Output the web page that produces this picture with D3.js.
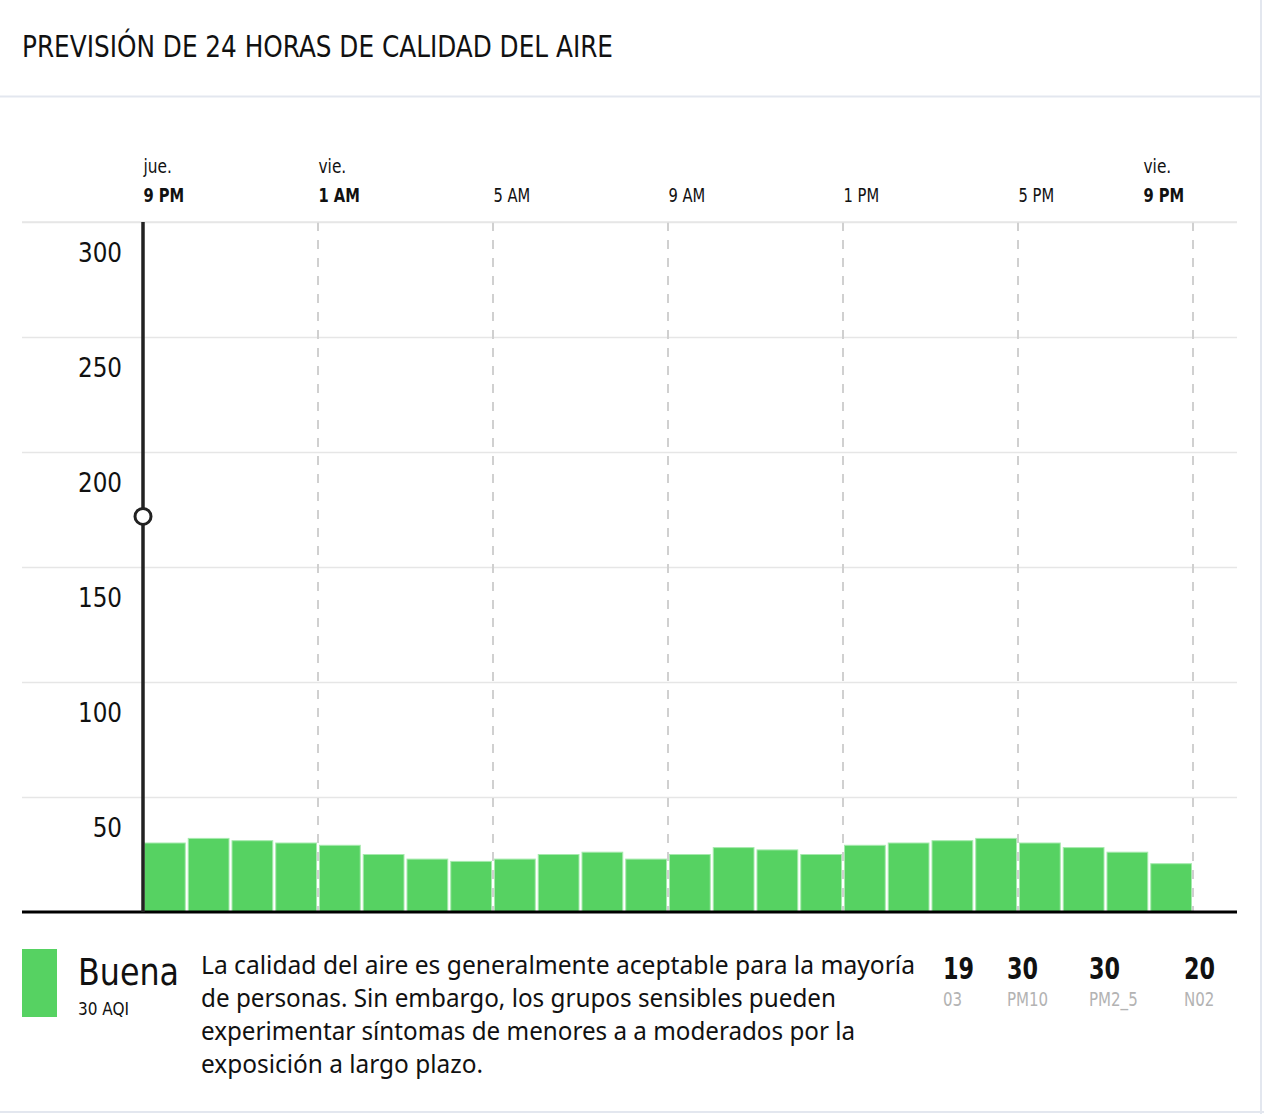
<!DOCTYPE html>
<html>
<head>
<meta charset="utf-8">
<script src="https://cdn.jsdelivr.net/npm/d3@7"></script>
<style>
  body { margin: 0; background: #fff; }
  svg text { font-family: "Liberation Sans Narrow", "DejaVu Sans Condensed", sans-serif; }
</style>
</head>
<body>
<svg id="aqi" width="1264" height="1114"></svg>
<script>
// hourly forecast, AQI values (24 bars starting jue. 9 PM)
const hours = d3.range(24);
const aqiValues = [30, 32, 31, 30, 29, 25, 23, 22, 23, 25, 26, 23, 25, 28, 27, 25, 29, 30, 31, 32, 30, 28, 26, 21];
const yTicks = [50, 100, 150, 200, 250, 300];
const xTicks = [0, 4, 8, 12, 16, 20, 24];
const xTickLabels = ["9 PM", "1 AM", "5 AM", "9 AM", "1 PM", "5 PM", "9 PM"];
const xDayLabels = ["jue.", "vie.", "", "", "", "", "vie."];
const markerValue = 172;

const pollutants = ["O3", "PM10", "PM2_5", "NO2"];
const pollutantValues = [19, 30, 30, 20];

const svg = d3.select("svg#aqi");

// squeeze text horizontally, the original font is a condensed one
function condense(sel, k) {
    sel.each(function () {
        const len = this.getComputedTextLength();
        if (len > 0) {
            d3.select(this).attr("textLength", len * k).attr("lengthAdjust", "spacingAndGlyphs");
        }
    });
}

// frame lines
svg.append("line").attr("x1", 0).attr("x2", 1260).attr("y1", 96.5).attr("y2", 96.5)
    .style("stroke", "#e3e7ef").style("stroke-width", 2);
svg.append("line").attr("x1", 1261).attr("x2", 1261).attr("y1", 0).attr("y2", 1114)
    .style("stroke", "#e3e7ef").style("stroke-width", 2);
svg.append("line").attr("x1", 0).attr("x2", 1264).attr("y1", 1112).attr("y2", 1112)
    .style("stroke", "#e3e7ef").style("stroke-width", 2);

svg.append("text")
    .attr("x", 22).attr("y", 57)
    .style("font-size", "30px").style("fill", "#111")
    .text("PREVISIÓN DE 24 HORAS DE CALIDAD DEL AIRE")
    .attr("textLength", 591).attr("lengthAdjust", "spacingAndGlyphs");

// scales
const x = d3.scaleLinear().domain([0, 24]).range([143, 1193]);
const y = d3.scaleLinear().domain([0, 300]).range([912, 222]);

// horizontal grid (y axis)
const yAxis = svg.append("g")
    .attr("transform", "translate(22,0)")
    .call(d3.axisRight(y).tickValues(yTicks).tickSize(1215).tickFormat(d3.format("d")));
yAxis.select(".domain").remove();
yAxis.selectAll(".tick line").style("stroke", "#e6e6e6").style("stroke-width", 1.5);
yAxis.selectAll(".tick text")
    .attr("x", 100).attr("dy", 39)
    .attr("text-anchor", "end")
    .style("font-size", "27px").style("fill", "#111")
    .style("font-family", "'Liberation Sans Narrow', 'DejaVu Sans Condensed', sans-serif")
    .call(condense, 0.95);

// dashed vertical hour lines
svg.append("g").selectAll("line")
    .data(xTicks.slice(1))
    .join("line")
    .attr("x1", d => x(d)).attr("x2", d => x(d))
    .attr("y1", y(300)).attr("y2", y(0))
    .style("stroke", "#d0d0d0").style("stroke-width", 2)
    .style("stroke-dasharray", "9,9");

// bars
const barW = x(1) - x(0);
svg.append("g").selectAll("rect")
    .data(aqiValues)
    .join("rect")
    .attr("x", (d, i) => x(hours[i]) + 1.5)
    .attr("y", d => y(d))
    .attr("width", barW - 3)
    .attr("height", d => y(0) - y(d))
    .style("fill", "#56d262")
    .style("stroke", "#a6e9ad")
    .style("stroke-width", 1);

// top time axis (last label pulled back inside the chart)
const last = xTicks.length - 1;
const xAxis = svg.append("g")
    .attr("transform", "translate(0,222)")
    .call(d3.axisTop(x).tickValues(xTicks).tickSize(0).tickFormat((d, i) => xTickLabels[i]));
xAxis.select(".domain").remove();
xAxis.selectAll(".tick text")
    .attr("y", -20)
    .attr("dx", (d, i) => i === last ? -50 : 0)
    .attr("text-anchor", "start")
    .style("font-size", "19px").style("fill", "#111")
    .style("font-weight", (d, i) => xDayLabels[i] ? "bold" : "normal")
    .style("font-family", "'Liberation Sans Narrow', 'DejaVu Sans Condensed', sans-serif")
    .call(condense, 0.86);
xAxis.selectAll(".tick").append("text")
    .attr("y", -49)
    .attr("dx", (d, i) => i === last ? -50 : 0)
    .attr("text-anchor", "start")
    .style("font-size", "19px").style("fill", "#111")
    .text((d, i) => xDayLabels[i])
    .call(condense, 0.9);

// top grid line and baseline
svg.append("line").attr("x1", 22).attr("x2", 1237).attr("y1", y(300)).attr("y2", y(300))
    .style("stroke", "#e6e6e6").style("stroke-width", 1.5);
svg.append("line").attr("x1", 22).attr("x2", 1237).attr("y1", y(0)).attr("y2", y(0))
    .style("stroke", "#000").style("stroke-width", 3);

// current time line with marker
svg.append("line").attr("x1", x(0)).attr("x2", x(0)).attr("y1", y(300)).attr("y2", y(0))
    .style("stroke", "#222").style("stroke-width", 3.5);
svg.append("circle").attr("cx", x(0)).attr("cy", y(markerValue)).attr("r", 8)
    .style("fill", "#fff").style("stroke", "#222").style("stroke-width", 3);

// legend
const legend = svg.append("g");
legend.append("rect").attr("x", 22).attr("y", 949).attr("width", 35).attr("height", 68)
    .style("fill", "#56d262");
legend.append("text").attr("x", 78).attr("y", 985)
    .style("font-size", "38px").style("fill", "#111").text("Buena")
    .attr("textLength", 101).attr("lengthAdjust", "spacingAndGlyphs");
legend.append("text").attr("x", 78).attr("y", 1015)
    .style("font-size", "18px").style("fill", "#111").text(aqiValues[0] + " AQI")
    .attr("textLength", 51).attr("lengthAdjust", "spacingAndGlyphs");

const descLines = [
    "La calidad del aire es generalmente aceptable para la mayoría",
    "de personas. Sin embargo, los grupos sensibles pueden",
    "experimentar síntomas de menores a a moderados por la",
    "exposición a largo plazo."
];
const descWidths = [714, 635, 654, 282];
legend.append("g").selectAll("text")
    .data(descLines)
    .join("text")
    .attr("x", 201)
    .attr("y", (d, i) => 974 + i * 33)
    .style("font-size", "25px").style("fill", "#111")
    .style("font-family", "'Noto Sans', sans-serif")
    .text(d => d)
    .attr("textLength", (d, i) => descWidths[i]).attr("lengthAdjust", "spacingAndGlyphs");

const polX = [943, 1007, 1089, 1184];
const pol = legend.append("g").selectAll("g")
    .data(pollutants)
    .join("g")
    .attr("transform", (d, i) => `translate(${polX[i]},0)`);
pol.append("text").attr("y", 979)
    .style("font-size", "31px").style("font-weight", "bold").style("fill", "#111")
    .text((d, i) => pollutantValues[i])
    .call(condense, 0.8);
pol.append("text").attr("y", 1006)
    .style("font-size", "19px").style("fill", "#b3b3b3")
    .text(d => d.replace("O", "0"))
    .call(condense, 0.88);
</script>
</body>
</html>
